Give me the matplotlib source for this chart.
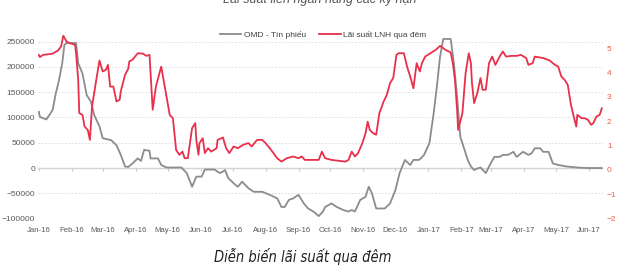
import matplotlib
matplotlib.use("Agg")
import matplotlib.pyplot as plt
import matplotlib.dates as mdates
import pandas as pd

plt.rcParams['font.family'] = ['Liberation Sans', 'DejaVu Sans']

# OMD - Tin phieu (left axis)
omd_dates = ["2016-01-01", "2016-01-02", "2016-01-08", "2016-01-11", "2016-01-14", "2016-01-17",
             "2016-01-20", "2016-01-23", "2016-01-25", "2016-01-27", "2016-02-05", "2016-02-07",
             "2016-02-11", "2016-02-15", "2016-02-19", "2016-02-22", "2016-02-27", "2016-03-01",
             "2016-03-09", "2016-03-14", "2016-03-18", "2016-03-22", "2016-03-25", "2016-03-29",
             "2016-04-03", "2016-04-06", "2016-04-09", "2016-04-14", "2016-04-15", "2016-04-22",
             "2016-04-25", "2016-04-30", "2016-05-14", "2016-05-19", "2016-05-24", "2016-05-28",
             "2016-06-02", "2016-06-05", "2016-06-14", "2016-06-19", "2016-06-22", "2016-06-24",
             "2016-06-27", "2016-07-02", "2016-07-06", "2016-07-10", "2016-07-16", "2016-07-21",
             "2016-07-29", "2016-08-05", "2016-08-12", "2016-08-16", "2016-08-19", "2016-08-23",
             "2016-08-27", "2016-09-01", "2016-09-06", "2016-09-10", "2016-09-15", "2016-09-20",
             "2016-09-24", "2016-09-26", "2016-10-02", "2016-10-07", "2016-10-13", "2016-10-18",
             "2016-10-21", "2016-10-24", "2016-10-29", "2016-11-03", "2016-11-06", "2016-11-09",
             "2016-11-13", "2016-11-21", "2016-11-26", "2016-12-01", "2016-12-05", "2016-12-10",
             "2016-12-15", "2016-12-18", "2016-12-23", "2016-12-25", "2016-12-28", "2017-01-02",
             "2017-01-06", "2017-01-09", "2017-01-12", "2017-01-15", "2017-01-22", "2017-01-25",
             "2017-01-28", "2017-01-31", "2017-02-04", "2017-02-07", "2017-02-10", "2017-02-13",
             "2017-02-16", "2017-02-19", "2017-02-24", "2017-02-27", "2017-03-04", "2017-03-09",
             "2017-03-12", "2017-03-17", "2017-03-22", "2017-03-25", "2017-03-31", "2017-04-05",
             "2017-04-08", "2017-04-11", "2017-04-16", "2017-04-19", "2017-04-24", "2017-04-28",
             "2017-05-03", "2017-05-11", "2017-05-21", "2017-05-30", "2017-06-13"]
omd_values = [111000, 101000, 96000, 105000, 115000, 148000,
              174000, 207000, 243000, 247000, 247000, 207000,
              187000, 144000, 131000, 105000, 82000, 59000,
              55000, 45000, 26000, 3000, 2000, 9000,
              19000, 14000, 36000, 34000, 19000, 19000,
              6000, 1000, 1000, -10000, -37000, -17000,
              -17000, -3000, -3000, -10000, -7000, -4000,
              -20000, -30000, -37000, -27000, -40000, -47000,
              -47000, -53000, -60000, -77000, -77000, -63000,
              -60000, -53000, -70000, -80000, -86000, -95000,
              -86000, -77000, -70000, -77000, -83000, -86000,
              -83000, -86000, -63000, -57000, -37000, -50000,
              -80000, -80000, -70000, -44000, -10000, 16000,
              6000, 16000, 16000, 19000, 26000, 49000,
              108000, 161000, 220000, 255000, 255000, 207000,
              141000, 62000, 36000, 16000, 3000, -4000,
              -1000, 1000, -10000, 3000, 22000, 22000,
              26000, 26000, 32000, 22000, 32000, 26000,
              29000, 39000, 39000, 32000, 32000, 9000,
              6000, 3000, 1000, 0, 0]

# Lai suat LNH qua dem (right axis, %)
lnh_dates = ["2016-01-01", "2016-01-02", "2016-01-05", "2016-01-14", "2016-01-19", "2016-01-22",
             "2016-01-24", "2016-01-27", "2016-01-30", "2016-02-04", "2016-02-05", "2016-02-07",
             "2016-02-08", "2016-02-11", "2016-02-13", "2016-02-16", "2016-02-18", "2016-02-20",
             "2016-02-24", "2016-02-27", "2016-03-01", "2016-03-04", "2016-03-06", "2016-03-08",
             "2016-03-11", "2016-03-14", "2016-03-17", "2016-03-18", "2016-03-22", "2016-03-25",
             "2016-03-26", "2016-03-29", "2016-04-03", "2016-04-08", "2016-04-11", "2016-04-14",
             "2016-04-17", "2016-04-20", "2016-04-25", "2016-04-30", "2016-05-03", "2016-05-06",
             "2016-05-09", "2016-05-12", "2016-05-15", "2016-05-17", "2016-05-20", "2016-05-24",
             "2016-05-27", "2016-05-28", "2016-05-30", "2016-05-31", "2016-06-03", "2016-06-05",
             "2016-06-08", "2016-06-11", "2016-06-16", "2016-06-17", "2016-06-22", "2016-06-25",
             "2016-06-28", "2016-07-02", "2016-07-06", "2016-07-11", "2016-07-16", "2016-07-19",
             "2016-07-24", "2016-07-29", "2016-08-01", "2016-08-05", "2016-08-12", "2016-08-16",
             "2016-08-21", "2016-08-27", "2016-09-01", "2016-09-04", "2016-09-07", "2016-09-12",
             "2016-09-20", "2016-09-23", "2016-09-26", "2016-10-02", "2016-10-09", "2016-10-15",
             "2016-10-18", "2016-10-21", "2016-10-24", "2016-10-27", "2016-10-31", "2016-11-03",
             "2016-11-05", "2016-11-07", "2016-11-10", "2016-11-13", "2016-11-16", "2016-11-20",
             "2016-11-23", "2016-11-26", "2016-11-29", "2016-12-02", "2016-12-04", "2016-12-09",
             "2016-12-12", "2016-12-15", "2016-12-18", "2016-12-21", "2016-12-24", "2016-12-26",
             "2016-12-29", "2017-01-03", "2017-01-08", "2017-01-12", "2017-01-17", "2017-01-22",
             "2017-01-24", "2017-01-26", "2017-01-28", "2017-01-29", "2017-02-02", "2017-02-05",
             "2017-02-08", "2017-02-10", "2017-02-11", "2017-02-13", "2017-02-16", "2017-02-19",
             "2017-02-21", "2017-02-24", "2017-02-27", "2017-03-02", "2017-03-05", "2017-03-09",
             "2017-03-12", "2017-03-15", "2017-03-20", "2017-03-25", "2017-03-29", "2017-04-03",
             "2017-04-05", "2017-04-09", "2017-04-11", "2017-04-19", "2017-04-25", "2017-04-30",
             "2017-05-03", "2017-05-06", "2017-05-09", "2017-05-12", "2017-05-15", "2017-05-18",
             "2017-05-20", "2017-05-21", "2017-05-25", "2017-05-28", "2017-05-31", "2017-06-03",
             "2017-06-05", "2017-06-08", "2017-06-11", "2017-06-13"]
lnh_values = [4.72, 4.63, 4.72, 4.77, 4.90, 5.07,
              5.51, 5.27, 5.20, 5.14, 4.79, 3.70,
              2.33, 2.26, 1.78, 1.64, 1.23, 2.60,
              3.70, 4.49, 4.04, 4.11, 4.31, 3.42,
              3.42, 2.81, 2.88, 3.22, 3.90, 4.15,
              4.45, 4.52, 4.79, 4.77, 4.68, 4.72,
              2.47, 3.42, 4.24, 3.01, 2.26, 2.12,
              0.82, 0.62, 0.75, 0.48, 0.48, 1.71,
              1.92, 1.23, 0.62, 1.10, 1.30, 0.69,
              0.89, 0.75, 0.89, 1.23, 1.33, 0.89,
              0.69, 0.96, 0.89, 1.03, 1.10, 0.96,
              1.23, 1.23, 1.10, 0.89, 0.48, 0.34,
              0.48, 0.55, 0.48, 0.55, 0.41, 0.41,
              0.41, 0.75, 0.48, 0.41, 0.37, 0.34,
              0.41, 0.75, 0.55, 0.69, 1.10, 1.51,
              1.98, 1.64, 1.51, 1.44, 2.33, 2.81,
              3.08, 3.56, 3.77, 4.72, 4.79, 4.79,
              4.24, 3.83, 3.35, 4.38, 4.04, 4.38,
              4.65, 4.79, 4.93, 5.09, 4.93, 4.82,
              4.38, 3.70, 2.47, 1.64, 2.33, 3.97,
              4.79, 4.38, 3.56, 2.74, 3.15, 3.77,
              3.29, 3.29, 4.38, 4.65, 4.31, 4.65,
              4.86, 4.65, 4.68, 4.68, 4.72, 4.59,
              4.31, 4.38, 4.65, 4.59, 4.49, 4.31,
              4.24, 3.83, 3.70, 3.49, 2.67, 2.12,
              1.78, 2.26, 2.12, 2.12, 2.05, 1.85,
              1.92, 2.19, 2.26, 2.53]

title = "Lãi suất liên ngân hàng các kỳ hạn"
caption = "Diễn biến lãi suất qua đêm"

gray = '#8c8c8c'
red = '#e8304a'

fig = plt.figure(figsize=(6.4, 2.75), dpi=100)
ax = fig.add_axes([0.059, 0.205, 0.883, 0.668])
ax2 = ax.twinx()

omd_x = pd.to_datetime(omd_dates)
lnh_x = pd.to_datetime(lnh_dates)

l1, = ax.plot(omd_x, omd_values, color=gray, lw=1.3, label='OMD - Tín phiếu')
l2, = ax2.plot(lnh_x, lnh_values, color=red, lw=1.3, label='Lãi suất LNH qua đêm')

ax.set_ylim(-100000, 263000)
ax.set_yticks(range(-100000, 250001, 50000))
ax2.set_ylim(-2, 5.54)
ax2.set_yticks(range(-2, 6))
ax.set_xlim(pd.Timestamp("2015-12-31"), pd.Timestamp("2017-06-14"))

ax.grid(axis='y', color='#d9d9d9', linestyle=(0, (2, 2)), linewidth=0.6)
ax.axhline(0, color='#d0d0d0', lw=1.0, zorder=1)
for a in (ax, ax2):
    for s in a.spines.values():
        s.set_visible(False)

ax.tick_params(axis='y', length=0, labelsize=6, labelcolor='#595959', pad=2)
ax2.tick_params(axis='y', length=0, labelsize=6, labelcolor='#e8604a', pad=3)

month_ticks = pd.date_range("2016-01-01", "2017-06-01", freq="MS")
ax.set_xticks(month_ticks)
ax.xaxis.set_major_formatter(mdates.DateFormatter('%b-%y'))
ax.tick_params(axis='x', length=0, labelsize=5.6, labelcolor='#595959', pad=6)

# small tick marks sitting on the zero line
zero_pos = (0 - ax.get_ylim()[0]) / (ax.get_ylim()[1] - ax.get_ylim()[0])
sec = ax.secondary_xaxis(zero_pos)
sec.set_xticks(month_ticks)
sec.tick_params(axis='x', direction='out', length=2.5, color='#c8c8c8', labelbottom=False, labeltop=False)
sec.spines['bottom'].set_visible(False)
sec.spines['top'].set_visible(False)

fig.legend(handles=[l1, l2], loc='center', bbox_to_anchor=(0.505, 0.872), ncol=2, frameon=False,
           fontsize=6, handlelength=2.6, handletextpad=0.3, columnspacing=1.6,
           labelcolor='#404040')

fig.text(0.5, 1.003, title, ha='center', va='center', fontsize=9, style='italic', color='#555555')
fig.text(0.473, 0.068, caption, ha='center', va='center', fontsize=10.5, style='italic',
         fontstretch='condensed', color='#222222',
         family=['Liberation Sans Narrow', 'DejaVu Sans'])

fig.savefig('out.png', dpi=100)
